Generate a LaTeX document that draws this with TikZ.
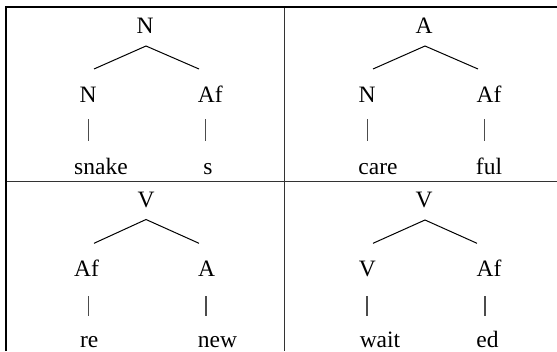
\documentclass[tikz,border=0pt]{standalone}
\usepackage{fontspec}
\setmainfont{Liberation Serif}
\begin{document}
\begin{tikzpicture}[x=1pt,y=-1pt,
  lbl/.style={anchor=base,inner sep=0pt,font=\fontsize{23.5}{26}\selectfont},
  branch/.style={line width=1pt,black},
  stem/.style={line width=1.1pt,black!70},
  frame/.style={line width=2pt,black},
  grid/.style={line width=1.3pt,black!80}]
\useasboundingbox (0,0) rectangle (557,351);
% table lines
\coordinate (tl) at (6,7.2);
\coordinate (tr) at (557,7.2);
\coordinate (bl) at (6,351);
\coordinate (ml) at (6,181.7);
\coordinate (mr) at (557,181.7);
\coordinate (mt) at (284.7,7.2);
\coordinate (mb) at (284.7,351);
\draw[grid] (ml) -- (mr);
\draw[grid] (mt) -- (mb);
\draw[frame] (bl) -- (tl) -- ([xshift=-1pt]tl) (tl) -- (tr);
% ---------- cell 1 ----------
\node[lbl] (r1) at (145,33.5) {N};
\node[lbl] (c1a) at (88,102.7) {N};
\node[lbl] (c1b) at (210.3,102.7) {Af};
\node[lbl] (l1a) at (101,174) {snake};
\node[lbl] (l1b) at (208,174) {s};
\coordinate (a1) at (146,46);
\coordinate (e1a) at (94,69);
\coordinate (e1b) at (199,69);
\draw[branch] (e1a) -- (a1) -- (e1b);
\coordinate (s1at) at (88.3,119.3); \coordinate (s1ab) at (88.3,140.7);
\coordinate (s1bt) at (205.7,119.3); \coordinate (s1bb) at (205.7,140.7);
\draw[stem] (s1at) -- (s1ab);
\draw[stem] (s1bt) -- (s1bb);
% ---------- cell 2 ----------
\node[lbl] (r2) at (424,33.5) {A};
\node[lbl] (c2a) at (367,102.7) {N};
\node[lbl] (c2b) at (489,102.7) {Af};
\node[lbl] (l2a) at (378,174) {care};
\node[lbl] (l2b) at (489,174) {ful};
\coordinate (a2) at (425,46);
\coordinate (e2a) at (373,69);
\coordinate (e2b) at (478,69);
\draw[branch] (e2a) -- (a2) -- (e2b);
\coordinate (s2at) at (367.3,119.3); \coordinate (s2ab) at (367.3,140.7);
\coordinate (s2bt) at (484.7,119.3); \coordinate (s2bb) at (484.7,140.7);
\draw[stem] (s2at) -- (s2ab);
\draw[stem] (s2bt) -- (s2bb);
% ---------- cell 3 ----------
\node[lbl] (r3) at (146,207.3) {V};
\node[lbl] (c3a) at (86.5,276.7) {Af};
\node[lbl] (c3b) at (206.7,276.7) {A};
\node[lbl] (l3a) at (89.3,347.7) {re};
\node[lbl] (l3b) at (217.5,347.7) {new};
\coordinate (a3) at (146,219.5);
\coordinate (e3a) at (94,243.3);
\coordinate (e3b) at (199,243.3);
\draw[branch] (e3a) -- (a3) -- (e3b);
\coordinate (s3at) at (88.3,296); \coordinate (s3ab) at (88.3,315.5);
\coordinate (s3bt) at (206,296); \coordinate (s3bb) at (206,315.5);
\draw[stem] (s3at) -- (s3ab);
\draw[stem] (s3bt) -- (s3bb);
% ---------- cell 4 ----------
\node[lbl] (r4) at (424,207.3) {V};
\node[lbl] (c4a) at (367.3,276.7) {V};
\node[lbl] (c4b) at (489,276.7) {Af};
\node[lbl] (l4a) at (380,347.7) {wait};
\node[lbl] (l4b) at (487.5,347.7) {ed};
\coordinate (a4) at (425,220);
\coordinate (e4a) at (373,243.3);
\coordinate (e4b) at (477,243.3);
\draw[branch] (e4a) -- (a4) -- (e4b);
\coordinate (s4at) at (367,296); \coordinate (s4ab) at (367,315.5);
\coordinate (s4bt) at (485,296); \coordinate (s4bb) at (485,315.5);
\draw[stem] (s4at) -- (s4ab);
\draw[stem] (s4bt) -- (s4bb);
\end{tikzpicture}
\end{document}
